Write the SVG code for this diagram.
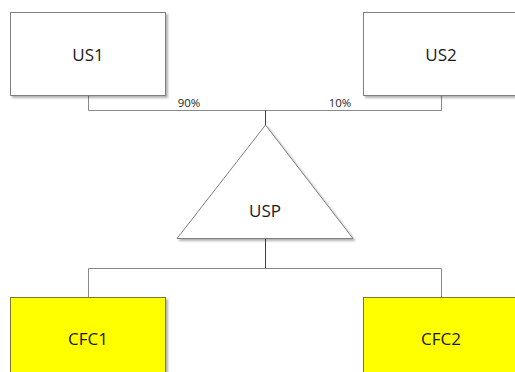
<svg xmlns="http://www.w3.org/2000/svg" width="515" height="372" viewBox="0 0 515 372">
<style>
.box{fill:#ffffff;stroke:#7f7f7f;stroke-width:1}
.cfc{fill:#ffff00;stroke:#7a7a30;stroke-width:1}
.lbl{font-family:"Open Sans","Noto Sans",sans-serif;font-size:17px;fill:#1a1a1a;text-anchor:middle}
.pct{font-family:"Open Sans","Noto Sans",sans-serif;font-size:11.5px;fill:#262626;text-anchor:middle}
.con{fill:none;stroke:#8a8a8a;stroke-width:1}
.trunk{fill:none;stroke:#404040;stroke-width:1}
</style>
<defs>
<filter id="sh" x="-10%" y="-10%" width="130%" height="130%">
<feDropShadow dx="2" dy="2" stdDeviation="1.2" flood-color="#000" flood-opacity="0.3"/>
</filter>
</defs>
<rect width="515" height="372" fill="#ffffff"/>
<g id="connectors">
<polyline class="con" points="88.5,96 88.5,110.5 265,110.5"/>
<polyline class="con" points="441.5,96 441.5,110.5 265,110.5"/>
<line class="trunk" x1="265.5" y1="110.5" x2="265.5" y2="125"/>
<line class="trunk" x1="265.5" y1="238" x2="265.5" y2="268.5"/>
<polyline class="con" points="88.5,298 88.5,268.5 441.5,268.5 441.5,298"/>
<text class="pct" x="189" y="107">90%</text>
<text class="pct" x="340" y="107">10%</text>
</g>
<g id="US1">
<rect class="box" x="10.5" y="12.5" width="155" height="83" filter="url(#sh)"/>
<text class="lbl" x="88" y="61">US1</text>
</g>
<g id="US2">
<rect class="box" x="363.5" y="12.5" width="160" height="83" filter="url(#sh)"/>
<text class="lbl" x="441" y="61">US2</text>
</g>
<g id="USP">
<polygon class="box" points="265.5,125 353,238.5 177,238.5" filter="url(#sh)"/>
<text class="lbl" x="265" y="217">USP</text>
</g>
<g id="CFC1">
<rect class="cfc" x="10.5" y="297.5" width="155" height="90" filter="url(#sh)"/>
<text class="lbl" x="88" y="345">CFC1</text>
</g>
<g id="CFC2">
<rect class="cfc" x="363.5" y="297.5" width="160" height="90" filter="url(#sh)"/>
<text class="lbl" x="441" y="345">CFC2</text>
</g>
</svg>
